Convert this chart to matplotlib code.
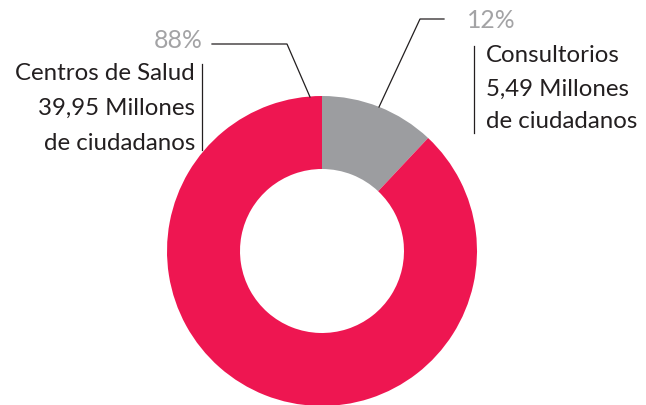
import matplotlib
matplotlib.use("Agg")
import matplotlib.pyplot as plt

categories = ["Consultorios", "Centros de Salud"]
shares = [12, 88]
millions = ["5,49", "39,95"]
colors = ["#9C9DA0", "#EE1651"]

W, H = 646, 405
fig = plt.figure(figsize=(W / 100, H / 100), dpi=100)
ax = fig.add_axes([0, 0, 1, 1])

def Y(y):
    return H - y

cx, cy = 322, Y(251)
R, r = 155, 82
ax.pie(shares, colors=colors, startangle=90, counterclock=False,
       center=(cx, cy), radius=R, wedgeprops=dict(width=R - r, linewidth=0),
       frame=True)
ax.set_xlim(0, W)
ax.set_ylim(0, H)
ax.set_aspect("equal")
ax.axis("off")

font = "Lato"
dark = "#231F20"
grey = "#A3A3A5"
fs = 17.3

# leader lines
ax.plot([212, 287, 310], [Y(44), Y(44), Y(97)], color=dark, lw=0.9)
ax.plot([444, 420, 379], [Y(19), Y(19), Y(107)], color=dark, lw=0.9)

# percent labels
ax.text(203, Y(40), f"{shares[1]}%", color=grey, fontsize=fs + 0.5, family=font,
        ha="right", va="center")
ax.text(467, Y(20), f"{shares[0]}%", color=grey, fontsize=fs + 0.5, family=font,
        ha="left", va="center")

# category labels
left_lines = [categories[1], f"{millions[1]} Millones", "de ciudadanos"]
for i, t in enumerate(left_lines):
    ax.text(195, Y(73 + 35 * i), t, color=dark, fontsize=fs, family=font,
            ha="right", va="center")
ax.plot([202, 202], [Y(64), Y(150)], color=dark, lw=0.9)

right_lines = [categories[0], f"{millions[0]} Millones", "de ciudadanos"]
for i, t in enumerate(right_lines):
    ax.text(486, Y(56 + 33 * i), t, color=dark, fontsize=fs, family=font,
            ha="left", va="center")
ax.plot([474, 474], [Y(46), Y(133)], color=dark, lw=0.9)

fig.savefig("out.png", dpi=100)
